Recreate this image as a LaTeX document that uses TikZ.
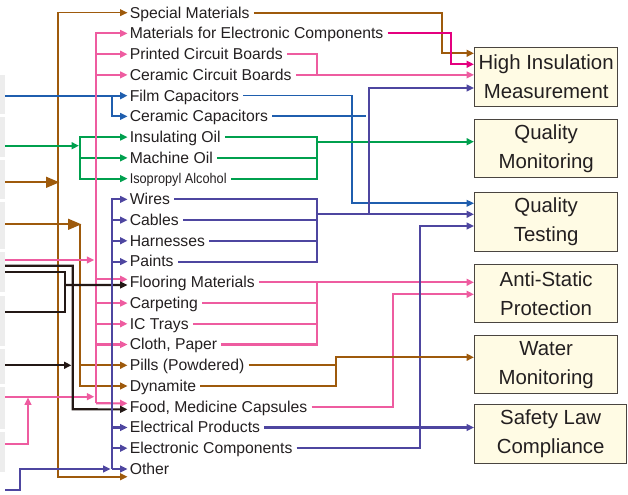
\documentclass[tikz,border=0pt]{standalone}
\usepackage{fontspec}
\setmainfont{Liberation Sans}
\usetikzlibrary{arrows.meta,calc}
\definecolor{brn}{HTML}{9E5A0C}
\definecolor{pnk}{HTML}{EE5CA0}
\definecolor{mag}{HTML}{E4007F}
\definecolor{blu}{HTML}{1F5EAE}
\definecolor{grn}{HTML}{00A04E}
\definecolor{pur}{HTML}{4E46A0}
\definecolor{blk}{HTML}{231815}
\definecolor{txt}{HTML}{231F20}
\definecolor{boxfill}{HTML}{FFFBE4}
\definecolor{boxline}{HTML}{4A4540}
\definecolor{cell}{HTML}{EDEDED}
\begin{document}
\begin{tikzpicture}[x=0.75pt,y=-0.75pt,
  lab/.style={anchor=west, inner xsep=1.5pt, inner ysep=0pt, text height=9pt, text depth=1pt, font=\fontsize{11.8}{14}\selectfont, text=txt},
  outbox/.style={draw=boxline, line width=1pt, fill=boxfill, anchor=north west, minimum width=107.25pt, align=center, font=\fontsize{15.3}{21.75}\selectfont, text=txt, inner sep=0pt},
  ln/.style={line width=1.6pt, line cap=butt, line join=miter},
  arr/.style={-{Triangle[length=5.5pt,width=5pt]}},
  bigarr/.style={-{Triangle[length=10pt,width=8pt]}},
]
\useasboundingbox (0,0) rectangle (628,495);
% faint table cells at the left edge
\foreach \a/\b in {75/114,117/157,160/199,202/249,252/292,296/346,349/384,387/429,432/472}
  \fill[cell] (0,\a) rectangle (5,\b);

% output boxes
\node[outbox, minimum height=44.25pt] (b1) at (474,47) {High Insulation\\Measurement};
\node[outbox, minimum height=43.5pt] (b2) at (474,119) {Quality\\Monitoring};
\node[outbox, minimum height=44.25pt] (b3) at (474,192) {Quality\\Testing};
\node[outbox, minimum height=43.5pt] (b4) at (474,264) {Anti-Static\\Protection};
\node[outbox, minimum height=43.5pt] (b5) at (474,335) {Water\\Monitoring};
\node[outbox, minimum height=44.25pt, minimum width=114pt] (b6) at (474,404) {Safety Law\\Compliance};

% labels
\node[lab] (sm)  at (127.5,12.7)  {Special Materials};
\node[lab] (mec) at (127.5,33.4)  {Materials for Electronic Components};
\node[lab] (pcb) at (127.5,54.2)  {Printed Circuit Boards};
\node[lab] (ccb) at (127.5,74.9)  {Ceramic Circuit Boards};
\node[lab] (fc)  at (127.5,95.7)  {Film Capacitors};
\node[lab] (cc)  at (127.5,116.4) {Ceramic Capacitors};
\node[lab] (io)  at (127.5,137.1) {Insulating Oil};
\node[lab] (mo)  at (127.5,157.9) {Machine Oil};
\node[lab] (ia)  at (127.5,178.6) {\scalebox{0.9}[1]{\fontsize{10.6}{12}\selectfont Isopropyl Alcohol}};
\node[lab] (wir) at (127.5,199.4) {Wires};
\node[lab] (cab) at (127.5,220.1) {Cables};
\node[lab] (har) at (127.5,240.8) {Harnesses};
\node[lab] (pai) at (127.5,261.6) {Paints};
\node[lab] (flo) at (127.5,282.3) {Flooring Materials};
\node[lab] (car) at (127.5,303.1) {Carpeting};
\node[lab] (ict) at (127.5,323.8) {IC Trays};
\node[lab] (clo) at (127.5,344.5) {Cloth, Paper};
\node[lab] (pil) at (127.5,365.3) {Pills (Powdered)};
\node[lab] (dyn) at (127.5,386.0) {Dynamite};
\node[lab] (fmc) at (127.5,406.8) {Food, Medicine Capsules};
\node[lab] (elp) at (127.5,427.5) {Electrical Products};
\node[lab] (ecp) at (127.5,448.2) {Electronic Components};
\node[lab] (oth) at (127.5,469.0) {Other};

% ---------- right side ----------
\draw[ln,brn,arr] ([xshift=1.5pt]sm.east) -| (442,53.3) -- ($(b1.north west)+(0,6.3)$);
\draw[ln,mag,arr] ([xshift=1.5pt]mec.east) -| (450.7,64.3) -- ($(b1.north west)+(0,17.3)$);
\draw[ln,pnk] ([xshift=1.5pt]pcb.east) -| (316.7,74.9);
\draw[ln,pnk,arr] ([xshift=1.5pt]ccb.east) -- (b1.west |- ccb);

\draw[ln,blu,line width=1.2pt,arr] ([xshift=1.5pt]fc.east) -| (352,203.3) -- ($(b3.north west)+(0,11.3)$);
\draw[ln,blu] ([xshift=1.5pt]cc.east) -- (365.7,116.4);

\draw[ln,grn] ([xshift=1.5pt]io.east) -| (316.7,178.6) -- ([xshift=1.5pt]ia.east);
\draw[ln,grn] ([xshift=1.5pt]mo.east) -- (316.7,157.9);
\draw[ln,grn,arr] (316.7,141.7) -- ($(b2.north west)+(0,22.7)$);

\draw[ln,pur] ([xshift=1.5pt]wir.east) -| (317.3,261.6) -- ([xshift=1.5pt]pai.east);
\draw[ln,pur] ([xshift=1.5pt]cab.east) -- (317.3,220.1);
\draw[ln,pur] ([xshift=1.5pt]har.east) -- (317.3,240.8);
\draw[ln,pur,arr] (317.3,214.3) -- ($(b3.north west)+(0,22.3)$);
\draw[ln,pur,arr] (369.3,214.3) |- ($(b1.north west)+(0,41)$);

\draw[ln,pnk,arr] ([xshift=1.5pt]flo.east) -- (b4.west |- flo);
\draw[ln,pnk] (316.7,282.3) -- (316.7,344.5) -- ([xshift=1.5pt]clo.east);
\draw[ln,pnk] ([xshift=1.5pt]car.east) -- (316.7,303.1);
\draw[ln,pnk] ([xshift=1.5pt]ict.east) -- (316.7,323.8);
\draw[ln,pnk,arr] ([xshift=1.5pt]fmc.east) -| (393.3,294.3) -- ($(b4.north west)+(0,30.3)$);

\draw[ln,pur,arr] ([xshift=1.5pt]ecp.east) -| (420,226) -- ($(b3.north west)+(0,34)$);
\draw[ln,pur,arr] ([xshift=1.5pt]elp.east) -- (b6.west |- elp);

\draw[ln,brn] ([xshift=1.5pt]pil.east) -- (336,365.3);
\draw[ln,brn,arr] ([xshift=1.5pt]dyn.east) -| (336,357.3) -- ($(b5.north west)+(0,22.3)$);

% ---------- left side ----------
% brown
\draw[ln,brn,line width=0.9pt,arr] (58,182.3) |- (sm.west);
\draw[ln,brn,arr] (58,182.3) |- ([yshift=-5.8pt]oth.west);
\draw[ln,brn,bigarr] (5,182.3) -- (59.5,182.3);
\draw[ln,brn,bigarr] (5,224.3) -- (81.5,224.3);
\draw[ln,brn,arr] (80,224.3) |- (dyn.west);
\draw[ln,brn,arr] (80,365.3) -- (pil.west);
% blue
\draw[ln,blu,arr] (5,95.7) -- (fc.west);
\draw[ln,blu,arr] (112.3,95.7) |- (cc.west);
% green
\draw[ln,grn,arr] (5,145.7) -- (79,145.7);
\draw[ln,grn,arr] (80,145.7) |- (io.west);
\draw[ln,grn,arr] (80,145.7) |- (ia.west);
\draw[ln,grn,arr] (80,157.9) -- (mo.west);
% pink
\draw[ln,pnk,arr] (96,403.3) |- (mec.west);
\draw[ln,pnk,arr] (96,54.2) -- (pcb.west);
\draw[ln,pnk,arr] (96,74.9) -- (ccb.west);
\draw[ln,pnk,arr] (96,279.3) -- ([yshift=2.25pt]flo.west);
\draw[ln,pnk,arr] (96,303.1) -- (car.west);
\draw[ln,pnk,arr] (96,323.8) -- (ict.west);
\draw[ln,pnk,arr] (96,344.5) -- (clo.west);
\draw[ln,pnk,arr] (96,403.3) -- ([yshift=2.6pt]fmc.west);
\draw[ln,pnk,arr] (5,260) -- (94.3,260);
\draw[ln,pnk,arr] (5,396.7) -- (94.3,396.7);
\draw[ln,pnk,arr] (5,444) -| (28,397.5);
% black
\draw[ln,blk,arr] (5,265.7) -| (72.7,409.3) -- ([yshift=-1.9pt]fmc.west);
\draw[ln,blk] (5,272.3) -| (65.3,312.3) -- (5,312.3);
\draw[ln,blk,arr] (65.3,285) -- ([yshift=-2pt]flo.west);
\draw[ln,blk,arr] (5,365.3) -- (71.5,365.3);
% purple
\draw[ln,pur,arr] (112.3,469) |- (wir.west);
\draw[ln,pur,arr] (112.3,220.1) -- (cab.west);
\draw[ln,pur,arr] (112.3,240.8) -- (har.west);
\draw[ln,pur,arr] (112.3,261.6) -- (pai.west);
\draw[ln,pur,arr] (112.3,427.5) -- (elp.west);
\draw[ln,pur,arr] (112.3,448.2) -- (ecp.west);
\draw[ln,pur,arr] (112.3,469) -- (oth.west);
\draw[ln,pur,arr] (5,490) -| (20,469) -- (110.5,469);
\end{tikzpicture}
\end{document}
